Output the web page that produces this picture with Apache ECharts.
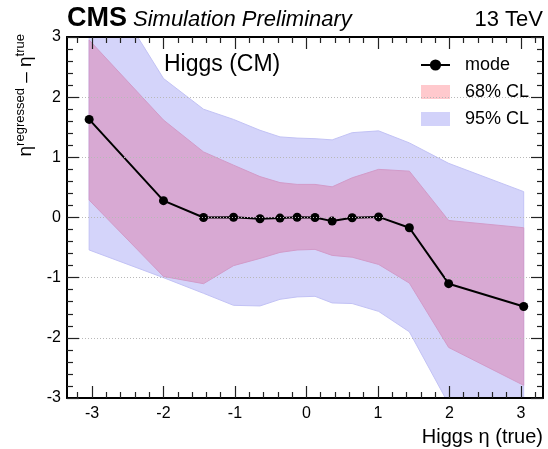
<!DOCTYPE html>
<html>
<head>
<meta charset="utf-8">
<script src="https://cdn.jsdelivr.net/npm/echarts@6/dist/echarts.min.js"></script>
<style>
  html, body { margin: 0; padding: 0; background: #fff; }
  #chart { width: 548px; height: 449px; }
</style>
</head>
<body>
<div id="chart"></div>
<script>
// ---- data ----
const X_VALUES = [-3.04, -2.0, -1.44, -1.02, -0.65, -0.37, -0.13, 0.12, 0.36, 0.64, 1.01, 1.44, 1.99, 3.04];
const MODE     = [1.63, 0.28, 0.00, 0.005, -0.02, -0.01, 0.005, 0.00, -0.06, -0.005, 0.01, -0.17, -1.10, -1.48];
const CL68_LO  = [0.29, -0.98, -1.10, -0.80, -0.68, -0.58, -0.54, -0.53, -0.63, -0.66, -0.78, -1.09, -2.16, -2.79];
const CL68_HI  = [2.95, 1.62, 1.09, 0.87, 0.68, 0.58, 0.55, 0.55, 0.51, 0.66, 0.80, 0.77, -0.05, -0.17];
const CL95_LO  = [-0.54, -1.00, -1.26, -1.46, -1.47, -1.36, -1.32, -1.31, -1.42, -1.43, -1.56, -1.90, -3.10, -4.50];
const CL95_HI  = [4.30, 2.31, 1.80, 1.63, 1.45, 1.34, 1.32, 1.31, 1.29, 1.41, 1.44, 1.24, 0.90, 0.43];
const X_TICKS  = [-3, -2, -1, 0, 1, 2, 3];
const Y_TICKS  = [-3, -2, -1, 0, 1, 2, 3];
const X_MIN = -3.35, X_MAX = 3.31, Y_MIN = -3, Y_MAX = 3;

// minor tick positions every 0.2 (not integer)
const X_MINOR = [];
for (let i = -16; i <= 16; i++) { if (i % 5 !== 0) X_MINOR.push(+(i * 0.2).toFixed(1)); }

const FONT = 'Liberation Sans, Arial, Helvetica, sans-serif';
const pairs = (ys) => X_VALUES.map((x, i) => [x, ys[i]]);
const bandData = (lo, hi) => X_VALUES.map((x, i) => [x, lo[i], hi[i]]);

const BLUE = '#D4D4FA', BLUE_EDGE = '#C2C2F5';
const PINK = '#D8A9D3', PINK_EDGE = '#D29BC9';

function bandRenderer(lo, hi, fill, edge) {
  return function (params, api) {
    if (params.dataIndex !== 0) return null;
    const pts = [];
    for (let i = 0; i < X_VALUES.length; i++) pts.push(api.coord([X_VALUES[i], hi[i]]));
    for (let i = X_VALUES.length - 1; i >= 0; i--) pts.push(api.coord([X_VALUES[i], lo[i]]));
    return {
      type: 'polygon',
      shape: { points: pts },
      style: { fill: fill, stroke: edge, lineWidth: 1 }
    };
  };
}

function xAxisDef(pos, major) {
  return {
    type: 'value', position: pos, min: X_MIN, max: X_MAX,
    axisLine: { show: major, onZero: false, lineStyle: { color: '#000', width: 2 } },
    axisTick: { show: true, inside: true, length: major ? 12 : 6, customValues: major ? X_TICKS : X_MINOR,
                lineStyle: { color: '#222', width: 1.2 } },
    axisLabel: (major && pos === 'bottom')
      ? { show: true, customValues: X_TICKS, fontSize: 16, fontFamily: FONT, color: '#000', margin: 8 }
      : { show: false },
    splitLine: { show: false },
    z: 10
  };
}
function yAxisDef(pos) {
  return {
    type: 'value', position: pos, min: Y_MIN, max: Y_MAX, interval: 1,
    axisLine: { show: true, onZero: false, lineStyle: { color: '#000', width: 2 } },
    axisTick: { show: true, inside: true, length: 12, lineStyle: { color: '#222', width: 1.2 } },
    minorTick: { show: true, splitNumber: 5, length: 6, lineStyle: { color: '#222', width: 1.2 } },
    axisLabel: pos === 'left'
      ? { show: true, fontSize: 16, fontFamily: FONT, color: '#000', margin: 6 }
      : { show: false },
    splitLine: pos === 'left'
      ? { show: true, lineStyle: { color: '#B8B8B8', width: 1, type: [1, 2] } }
      : { show: false },
    minorSplitLine: { show: false },
    z: 10
  };
}

const chart = echarts.init(document.getElementById('chart'), null, { renderer: 'canvas' });
chart.setOption({
  animation: false,
  backgroundColor: '#fff',
  grid: { left: 67, right: 5, top: 37, bottom: 51, containLabel: false, show: false },
  xAxis: [xAxisDef('bottom', true), xAxisDef('bottom', false), xAxisDef('top', true), xAxisDef('top', false)],
  yAxis: [yAxisDef('left'), yAxisDef('right')],
  legend: {
    left: 415, top: 51, orient: 'vertical', itemWidth: 29, itemHeight: 14, itemGap: 9,
    selectedMode: false,
    textStyle: { fontSize: 18, fontFamily: FONT, color: '#000', lineHeight: 18, padding: [0, 0, 0, 10] },
    data: [
      { name: 'mode' },
      { name: '68% CL', icon: 'rect', itemStyle: { color: '#FFC9CD', borderWidth: 0 } },
      { name: '95% CL', icon: 'rect', itemStyle: { color: '#D2D2FA', borderWidth: 0 } }
    ]
  },
  series: [
    { name: '95% CL', type: 'custom', data: bandData(CL95_LO, CL95_HI), encode: { x: 0, y: [1, 2] },
      renderItem: bandRenderer(CL95_LO, CL95_HI, BLUE, BLUE_EDGE), clip: true, z: 1, silent: true,
      itemStyle: { color: BLUE } },
    { name: '68% CL', type: 'custom', data: bandData(CL68_LO, CL68_HI), encode: { x: 0, y: [1, 2] },
      renderItem: bandRenderer(CL68_LO, CL68_HI, PINK, PINK_EDGE), clip: true, z: 2, silent: true,
      itemStyle: { color: PINK } },
    { name: 'mode', type: 'line', data: pairs(MODE), symbol: 'circle', symbolSize: 9,
      itemStyle: { color: '#000' }, lineStyle: { color: '#000', width: 2 }, z: 3 }
  ],
  graphic: [
    { type: 'text', x: 67, y: 19, style: { text: 'CMS', font: 'bold 27px ' + FONT, fill: '#000',
      textAlign: 'left', textVerticalAlign: 'middle' } },
    { type: 'text', x: 133, y: 20, style: { text: 'Simulation Preliminary', font: 'italic 22px ' + FONT, fill: '#000',
      textAlign: 'left', textVerticalAlign: 'middle' } },
    { type: 'text', x: 543, y: 20, style: { text: '13 TeV', font: '22px ' + FONT, fill: '#000',
      textAlign: 'right', textVerticalAlign: 'middle' } },
    { type: 'text', x: 164, y: 65, z: 20, style: { text: 'Higgs (CM)', font: '23px ' + FONT, fill: '#000',
      textAlign: 'left', textVerticalAlign: 'middle' } },
    { type: 'text', x: 543, y: 437, style: { text: 'Higgs η (true)', font: '20px ' + FONT, fill: '#000',
      textAlign: 'right', textVerticalAlign: 'middle' } },
    { type: 'text', x: 26, y: 34, rotation: Math.PI / 2,
      style: {
        text: '{e|η}{s|regressed}{m| – η}{s|true}',
        textAlign: 'right', textVerticalAlign: 'middle', fill: '#000',
        rich: {
          e: { fontSize: 19, lineHeight: 19, fontFamily: FONT, verticalAlign: 'bottom' },
          m: { fontSize: 19, lineHeight: 19, fontFamily: FONT, verticalAlign: 'bottom' },
          s: { fontSize: 13, lineHeight: 13, fontFamily: FONT, verticalAlign: 'bottom', padding: [0, 0, 9, 0] }
        }
      } }
  ]
});
</script>
</body>
</html>
